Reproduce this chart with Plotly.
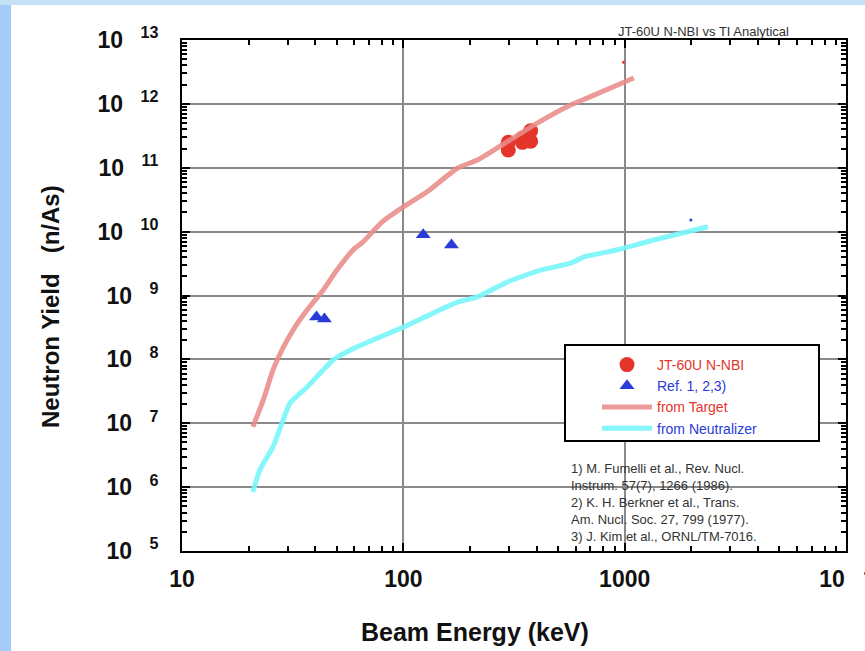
import plotly.graph_objects as go

# ---- data ----
target_e = [20.9, 23.3, 25.8, 28.3, 31.8, 36.8, 43.5, 50.2, 59.4, 65.2, 80.3, 100, 128, 176, 216, 266, 403, 570, 680, 1099]
target_y = [8.8e6, 2.32e7, 6.9e7, 1.41e8, 2.9e8, 5.96e8, 1.22e9, 2.52e9, 5.2e9, 6.7e9, 1.42e10, 2.44e10, 4.2e10, 9.9e10, 1.32e11, 2.04e11, 5.0e11, 9.6e11, 1.24e12, 2.54e12]

neut_e = [20.9, 22.5, 25.8, 28.3, 30.8, 36.8, 48.2, 61.9, 78.7, 100, 147, 176, 216, 296, 417, 570, 652, 929, 1352, 2377]
neut_y = [8.4e5, 1.87e6, 4.3e6, 1.01e7, 2.08e7, 3.7e7, 9.8e7, 1.57e8, 2.25e8, 3.2e8, 6.0e8, 7.9e8, 9.5e8, 1.63e9, 2.5e9, 3.2e9, 4.0e9, 5.2e9, 7.4e9, 1.19e10]

jt_e = [298, 298, 345, 345, 376, 376]
jt_y = [2.5e11, 1.9e11, 2.9e11, 2.5e11, 3.8e11, 2.6e11]

ref_e = [40.5, 44, 123, 165]
ref_y = [4.6e8, 4.3e8, 8.9e9, 6.2e9]

stray_target_e, stray_target_y = [988], [4.5e12]
stray_neut_e, stray_neut_y = [1991], [1.52e10]

x_tickvals = [10, 100, 1000, 10000]
x_ticktext = ["<b>10</b>", "<b>100</b>", "<b>1000</b>", "<b>10</b>&nbsp;&nbsp;&nbsp;<sup><b>4</b></sup>"]
y_tickvals = [10**k for k in range(5, 14)]
y_ticktext = ["<b>10</b>&nbsp;&nbsp;&#8201;<sup><b>%d</b></sup>" % k for k in range(5, 14)]

references = ["1) M. Fumelli et al., Rev. Nucl.",
              "Instrum. 57(7), 1266 (1986).",
              "2) K. H. Berkner et al., Trans.",
              "Am. Nucl. Soc. 27, 799 (1977).",
              "3) J. Kim et al., ORNL/TM-7016."]

RED = "#e5352b"
BLUE = "#2a3bd8"
SALMON = "rgba(232,140,138,0.88)"
CYAN = "rgba(120,245,250,0.9)"
FONT = "Arial, Liberation Sans, sans-serif"

W, H = 865, 651
L, R, T, B = 182, 19, 40, 100
PW, PH = W - L - R, H - T - B

def px2paper(x, y):
    return (x - L) / PW, (H - B - y) / PH

fig = go.Figure()
fig.add_trace(go.Scatter(x=jt_e, y=jt_y, mode="markers",
                         marker=dict(symbol="circle", size=15, color=RED),
                         name="<span style='color:%s'>JT-60U N-NBI</span>" % RED))
fig.add_trace(go.Scatter(x=ref_e, y=ref_y, mode="markers",
                         marker=dict(symbol="triangle-up", size=13, color=BLUE),
                         name="<span style='color:%s'>Ref. 1, 2,3)</span>" % BLUE))
fig.add_trace(go.Scatter(x=target_e, y=target_y, mode="lines",
                         line=dict(color=SALMON, width=5, shape="spline", smoothing=0.5),
                         name="<span style='color:%s'>from Target</span>" % RED))
fig.add_trace(go.Scatter(x=neut_e, y=neut_y, mode="lines",
                         line=dict(color=CYAN, width=5, shape="spline", smoothing=0.5),
                         name="<span style='color:%s'>from Neutralizer</span>" % BLUE))
fig.add_trace(go.Scatter(x=stray_target_e, y=stray_target_y, mode="markers",
                         marker=dict(size=3, color=RED), showlegend=False, hoverinfo="skip"))
fig.add_trace(go.Scatter(x=stray_neut_e, y=stray_neut_y, mode="markers",
                         marker=dict(size=3, color=BLUE), showlegend=False, hoverinfo="skip"))

axis_common = dict(
    type="log", showline=True, linecolor="black", linewidth=2, mirror="allticks",
    ticks="inside", ticklen=8, tickwidth=2, tickcolor="black",
    showgrid=True, gridcolor="#8a8a8a", gridwidth=2, zeroline=False,
    minor=dict(ticks="inside", ticklen=5, tickwidth=1.5, tickcolor="black", dtick="D1", showgrid=False),
    tickfont=dict(family=FONT, size=23, color="#111"),
    ticklabeloverflow="allow", automargin=False,
)
fig.update_xaxes(range=[1, 4], tickvals=x_tickvals, ticktext=x_ticktext,
                 ticklabelstandoff=6, **axis_common)
fig.update_yaxes(range=[5, 13], tickvals=y_tickvals, ticktext=y_ticktext,
                 ticklabelstandoff=17, **axis_common)

shapes = []
# light-blue page border
x0, _ = px2paper(0, 0)
x1, _ = px2paper(11, 0)
_, y0 = px2paper(0, H)
_, y1 = px2paper(0, 0)
shapes.append(dict(type="rect", xref="paper", yref="paper", x0=x0, x1=x1, y0=y0, y1=y1,
                   fillcolor="#a3cdf6", line=dict(width=0), layer="below"))
xr, _ = px2paper(W, 0)
_, yt = px2paper(0, 5)
shapes.append(dict(type="rect", xref="paper", yref="paper", x0=x0, x1=xr, y0=yt, y1=y1,
                   fillcolor="#c6e0f5", line=dict(width=0), layer="below"))
# legend box
bx0, by0 = px2paper(565, 441)
bx1, by1 = px2paper(819, 345)
shapes.append(dict(type="rect", xref="paper", yref="paper", x0=bx0, x1=bx1, y0=by0, y1=by1,
                   fillcolor="white", line=dict(color="black", width=2), layer="above"))

ann = []
tx, ty = px2paper(703, 31)
ann.append(dict(text="JT-60U N-NBI vs TI Analytical", xref="paper", yref="paper", x=tx, y=ty,
                xanchor="center", yanchor="middle",
                showarrow=False, font=dict(family=FONT, size=13, color="#333")))
ax_, ay_ = px2paper(475, 632)
ann.append(dict(text="<b>Beam Energy (keV)</b>", xref="paper", yref="paper", x=ax_, y=ay_,
                xanchor="center", yanchor="middle",
                showarrow=False, font=dict(family=FONT, size=25, color="#111")))
yx, yy = px2paper(50, 307)
ann.append(dict(text="<b>Neutron Yield&nbsp;&nbsp;&nbsp;(n/As)</b>", xref="paper", yref="paper", x=yx, y=yy,
                xanchor="center", yanchor="middle",
                textangle=-90, showarrow=False, font=dict(family=FONT, size=24, color="#111")))
rx, ry = px2paper(569, 459)
ann.append(dict(text="<br>".join(references), xref="paper", yref="paper", x=rx, y=ry,
                xanchor="left", yanchor="top", align="left", showarrow=False,
                font=dict(family=FONT, size=13, color="#333")))

lx, ly = px2paper(597, 349)
fig.update_layout(
    width=W, height=H, margin=dict(l=L, r=R, t=T, b=B),
    paper_bgcolor="white", plot_bgcolor="white",
    shapes=shapes, annotations=ann,
    showlegend=True,
    legend=dict(x=lx, y=ly, xanchor="left", yanchor="top", bgcolor="rgba(0,0,0,0)",
                borderwidth=0, font=dict(family=FONT, size=14), tracegroupgap=0,
                itemsizing="trace", itemwidth=50),
)

fig.write_html("out.html")
